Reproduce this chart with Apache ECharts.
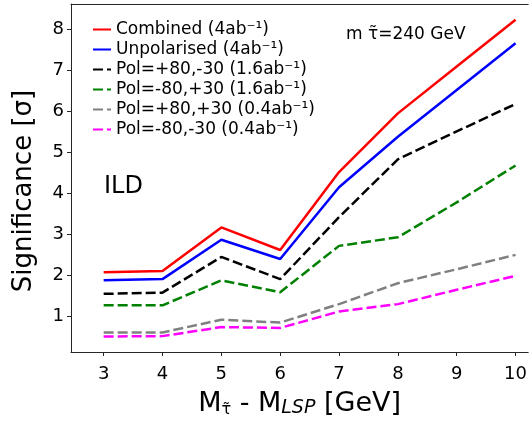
<!DOCTYPE html>
<html><head><meta charset="utf-8">
<script src="https://cdn.jsdelivr.net/npm/echarts@6/dist/echarts.min.js"></script>
<style>html,body{margin:0;padding:0;background:#fff}#c{width:530px;height:424px}</style>
</head><body><div id="c"></div>
<script>
const massGap = [3, 4, 5, 6, 7, 8, 9, 10];
const combined   = [2.08, 2.11, 3.17, 2.62, 4.52, 5.95, 7.09, 8.23];
const unpol      = [1.88, 1.91, 2.87, 2.40, 4.15, 5.38, 6.52, 7.66];
const polPM      = [1.55, 1.58, 2.45, 1.91, 3.42, 4.83, 5.51, 6.18];
const polMP      = [1.27, 1.27, 1.88, 1.59, 2.72, 2.93, 3.78, 4.68];
const polPP      = [0.61, 0.61, 0.92, 0.85, 1.30, 1.81, 2.15, 2.50];
const polMM      = [0.51, 0.52, 0.74, 0.72, 1.12, 1.30, 1.65, 1.99];
const xTicks = [3, 4, 5, 6, 7, 8, 9, 10];
const yTicks = [1, 2, 3, 4, 5, 6, 7, 8];
const seriesNames = ['Combined (4ab⁻¹)', 'Unpolarised (4ab⁻¹)', 'Pol=+80,-30 (1.6ab⁻¹)',
  'Pol=-80,+30 (1.6ab⁻¹)', 'Pol=+80,+30 (0.4ab⁻¹)', 'Pol=-80,-30 (0.4ab⁻¹)'];
const seriesData = [combined, unpol, polPM, polMP, polPP, polMM];
const colors = ['#ff0000', '#0000ff', '#000000', '#008000', '#808080', '#ff00ff'];
const dashed = [false, false, true, true, true, true];

const FONT = 'DejaVu Sans';
const chart = echarts.init(document.getElementById('c'), null, {renderer: 'canvas'});
const axisCol = '#262626';
chart.setOption({
  animation: false,
  backgroundColor: '#fff',
  textStyle: {fontFamily: FONT},
  grid: {left: 71, right: 0, top: 4, bottom: 72},
  legend: {
    orient: 'vertical', left: 92, top: 21, itemWidth: 18, itemHeight: 10, itemGap: 3,
    padding: 0,
    itemStyle: {opacity: 0},
    textStyle: {fontFamily: FONT, fontSize: 17, color: '#000', padding: [0, 0, 0, 0]},
    data: seriesNames
  },
  xAxis: [{
    type: 'value', min: 2.445, max: 10.215,
    axisLine: {show: true, lineStyle: {color: axisCol, width: 1}},
    axisTick: {show: true, length: 4, inside: false, customValues: xTicks, lineStyle: {color: axisCol}},
    axisLabel: {customValues: xTicks, fontSize: 18, color: '#000', fontFamily: FONT, margin: 13},
    splitLine: {show: false},
    name: '{a|M}{s|τ̃}{a| - M}{i|LSP}{a| [GeV]}',
    nameLocation: 'middle', nameGap: 37,
    nameTextStyle: {
      rich: {
        a: {fontSize: 27, fontFamily: FONT, color: '#000'},
        s: {fontSize: 16, fontFamily: FONT, color: '#000', padding: [12, 0, 0, 0]},
        i: {fontSize: 19, fontFamily: FONT, fontStyle: 'italic', color: '#000', padding: [10, 0, 0, 0]}
      }
    }
  }, {
    type: 'value', position: 'top', min: 2.445, max: 10.215,
    axisLine: {show: true, lineStyle: {color: axisCol, width: 1}},
    axisTick: {show: false}, axisLabel: {show: false}, splitLine: {show: false}
  }],
  yAxis: {
    type: 'value', min: 0.133, max: 8.616,
    axisLine: {show: true, lineStyle: {color: axisCol, width: 1}},
    axisTick: {show: true, length: 4, customValues: yTicks, lineStyle: {color: axisCol}},
    axisLabel: {customValues: yTicks, fontSize: 18, color: '#000', fontFamily: FONT, margin: 7},
    splitLine: {show: false},
    name: 'Significance [σ]', nameLocation: 'middle', nameGap: 34,
    nameTextStyle: {fontSize: 26, fontFamily: FONT, color: '#000', padding: [0, 26, 0, 0]}
  },
  graphic: [
    {type: 'text', left: 104, top: 175, style: {text: 'ILD', font: '24px "DejaVu Sans"', fill: '#000'}},
    {type: 'text', left: 346, top: 26, style: {text: 'm τ̃=240 GeV', font: '17px "DejaVu Sans"', fill: '#000'}}
  ],
  series: seriesNames.map((n, i) => ({
    name: n, type: 'line', symbol: 'none', xAxisIndex: 0,
    data: massGap.map((x, j) => [x, seriesData[i][j]]),
    lineStyle: {color: colors[i], width: 2.5, type: dashed[i] ? [10, 4] : 'solid'},
    itemStyle: {color: colors[i]}
  }))
});
</script></body></html>
